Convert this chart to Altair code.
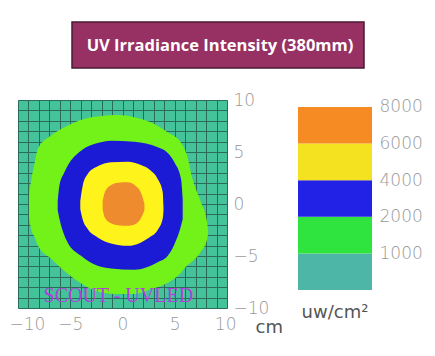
import altair as alt
import pandas as pd

TITLE = "UV Irradiance Intensity (380mm)"
WATERMARK = ["SCOUT - UVLED"]
WM_X = [-0.4]
WM_Y = [-8.85]

# contour bands: sampled x (cm) with upper / lower boundary (cm)
green_x = [-8.95, -8.75, -8.4, -8.1, -6.8, -5.5, -3.6, -2.0, -0.5, 1.1, 2.7, 4.3, 5.6, 6.2, 6.7, 7.5, 8.1, 8.2]
green_top = [0.8, 2.2, 4.0, 5.3, 6.6, 7.4, 8.2, 8.45, 8.55, 8.35, 7.85, 6.9, 5.9, 4.6, 2.4, 0.2, -1.8, -2.6]
green_bot = [-1.2, -2.4, -3.2, -4.0, -5.3, -6.5, -7.85, -8.5, -8.65, -8.65, -8.2, -7.6, -6.6, -5.9, -5.5, -4.6, -3.4, -2.8]

blue_x = [-6.2, -6.04, -5.57, -5.25, -3.97, -2.38, -1.1, 1.13, 3.37, 4.33, 4.96, 5.6, 5.76]
blue_top = [0.3, 1.76, 3.04, 3.68, 5.12, 5.86, 6.09, 5.99, 5.45, 4.9, 4.01, 2.4, 0.48]
blue_bot = [-0.6, -1.4, -3.0, -3.69, -4.98, -5.94, -6.2, -6.32, -5.6, -4.98, -3.9, -2.1, -1.45]

yellow_x = [-4.04, -3.81, -3.33, -2.38, -1.1, 0.5, 1.77, 2.6, 3.37, 3.85, 3.92]
yellow_top = [0.3, 1.76, 2.88, 3.62, 4.01, 4.07, 3.75, 3.3, 2.4, 1.12, -0.2]
yellow_bot = [-0.5, -1.5, -2.4, -3.21, -3.8, -4.02, -3.69, -3.2, -2.5, -1.4, -0.7]

orange_x = [-1.9, -1.7, -1.2, -0.4, 0.5, 1.3, 1.8, 2.1]
orange_top = [0.3, 1.1, 1.75, 2.05, 2.08, 1.7, 1.0, 0.0]
orange_bot = [-0.5, -1.3, -1.8, -2.05, -2.1, -1.9, -1.3, -0.6]

# colour bar
cb_names = ["<1000", "1000-2000", "2000-4000", "4000-6000", "6000-8000"]
cb_lo = [0, 1, 2, 3, 4]
cb_hi = [1, 2, 3, 4, 5]
cb_colors = ["#4DB6A6", "#2FE43F", "#2222E6", "#F4E11F", "#F68B24"]
cb_tick_pos = [1, 2, 3, 4, 5]
cb_tick_labels = ["1000", "2000", "4000", "6000", "8000"]

TEAL = "#44C39A"
GRID = "#2a6c58"
PLOT_COLORS = {"green": "#72F219", "blue": "#1B1BD6", "yellow": "#FFF31C", "orange": "#EE8B2E"}
LABEL_FONT = "DejaVu Sans"
LABEL_COLOR = "#999999"

ticks = list(range(-10, 11))
lab_expr = "datum.value % 5 === 0 ? datum.label : ''"

xscale = alt.Scale(domain=[-10, 10], nice=False, zero=False)
yscale = alt.Scale(domain=[-10, 10], nice=False, zero=False)

x_axis = alt.Axis(values=ticks, labelExpr=lab_expr, grid=True, gridColor=GRID, gridOpacity=1,
                  gridWidth=1, ticks=False, domain=False, labelFlush=True, labelFlushOffset=9,
                  labelPadding=8, labelFont=LABEL_FONT, labelFontSize=17, labelColor=LABEL_COLOR,
                  labelFontWeight=200, title="cm", titleX=237, titleY=19, titleAlign="left",
                  titleBaseline="middle", titleAngle=0, titleFont=LABEL_FONT, titleFontSize=18,
                  titleColor="#555555", titleFontWeight="normal")
y_axis = alt.Axis(orient="right", values=ticks, labelExpr=lab_expr, grid=True, gridColor=GRID,
                  gridOpacity=1, gridWidth=1, ticks=False, domain=False, labelFlush=False,
                  labelPadding=6, labelFont=LABEL_FONT, labelFontSize=17, labelColor=LABEL_COLOR,
                  labelFontWeight=200, title=None)


def band(xs, tops, bots, color):
    df = pd.DataFrame({"x": xs, "top": tops, "bot": bots})
    return alt.Chart(df).mark_area(interpolate="monotone", color=color, opacity=1).encode(
        x=alt.X("x:Q", scale=xscale, axis=x_axis),
        y=alt.Y("top:Q", scale=yscale, axis=y_axis),
        y2="bot:Q",
    )


wm = alt.Chart(pd.DataFrame({"x": WM_X, "y": WM_Y, "t": WATERMARK})).mark_text(
    font="Liberation Serif", fontSize=20, color="#B040DC"
).encode(x=alt.X("x:Q", scale=xscale, axis=x_axis), y=alt.Y("y:Q", scale=yscale, axis=y_axis), text="t:N")

main = alt.layer(
    band(green_x, green_top, green_bot, PLOT_COLORS["green"]),
    band(blue_x, blue_top, blue_bot, PLOT_COLORS["blue"]),
    band(yellow_x, yellow_top, yellow_bot, PLOT_COLORS["yellow"]),
    band(orange_x, orange_top, orange_bot, PLOT_COLORS["orange"]),
    wm,
).properties(width=209, height=208, view=alt.ViewBackground(fill=TEAL, stroke="transparent"))

cb_df = pd.DataFrame({"name": cb_names, "lo": cb_lo, "hi": cb_hi})
cb_expr = "[''," + ",".join("'%s'" % s for s in cb_tick_labels) + "][datum.value]"
colorbar = alt.Chart(cb_df).mark_rect().encode(
    y=alt.Y("lo:Q", scale=alt.Scale(domain=[0, 5.19], nice=False, zero=False),
            axis=alt.Axis(orient="right", values=cb_tick_pos, labelExpr=cb_expr, ticks=False,
                          domain=False, grid=False, labelPadding=7, labelFlush=False, title=None,
                          labelFont=LABEL_FONT, labelFontSize=17, labelColor=LABEL_COLOR,
                          labelFontWeight=200)),
    y2="hi:Q",
    color=alt.Color("name:N", scale=alt.Scale(domain=cb_names, range=cb_colors), legend=None),
).properties(width=74, height=190,
             title=alt.TitleParams("uw/cm²", orient="bottom", font=LABEL_FONT, fontSize=18,
                                   color="#555555", fontWeight="normal", offset=14))

one = alt.Data(values=[{}])
title_panel = alt.layer(
    alt.Chart(one).mark_rect(fill="#973063", stroke="#4a1a33", strokeWidth=1.5).encode(
        x=alt.value(54), x2=alt.value(346), y=alt.value(13), y2=alt.value(59)),
    alt.Chart(one).mark_text(text=TITLE, font="Open Sans", fontWeight="bold", fontSize=16.5,
                             color="white").encode(x=alt.value(202), y=alt.value(37)),
).properties(width=346, height=59)

chart = alt.vconcat(
    title_panel,
    alt.hconcat(main, colorbar, spacing=14),
    spacing=20,
).properties(padding=0).configure_view(stroke="transparent")

chart.save("out.html", embed_options={"renderer": "svg", "actions": False})
